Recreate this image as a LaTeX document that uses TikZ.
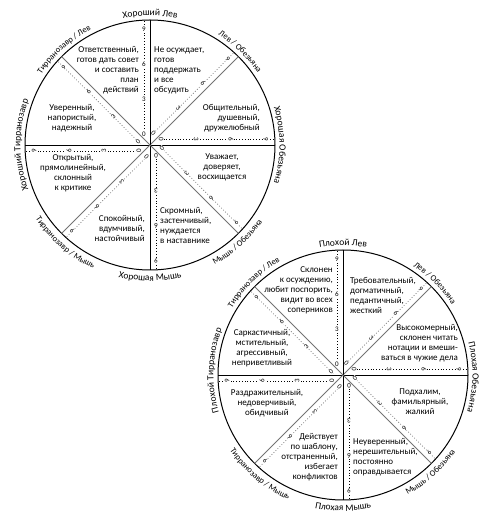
\documentclass[tikz,border=0pt]{standalone}
\usepackage{fontspec}
\setmainfont{Carlito}
\usetikzlibrary{decorations.text}

\newcommand{\sectfont}{\fontsize{9}{10}\selectfont}
\newcommand{\rimfont}{\fontsize{9.5}{10}\selectfont}
\newcommand{\mixfont}{\fontsize{8.5}{10}\selectfont}

\tikzset{
  rim/.style={line width=1pt},
  axis/.style={line width=0.8pt, black},
  diag/.style={line width=0.8pt, black!55},
  scaledots/.style={dotted, line width=0.7pt},
  digit/.style={font=\fontsize{7}{7}\selectfont, inner sep=0.5pt, fill=white,
    transform shape, rotate=-90},
  sector/.style={font=\sectfont, inner sep=0pt},
  rimtext/.style={decorate, decoration={text along path, text align=center, text={#1}}}
}

\begin{document}
\begin{tikzpicture}[x=1pt, y=1pt]
  \useasboundingbox (0,0) rectangle (498,517);

  % Хороший круг
  \begin{scope}[shift={(150,372)}]
    \coordinate (good) at (0,0);
    \draw[rim] (good) circle[radius=125];
    \foreach \a/\s in {0/axis,45/diag,90/axis,135/diag,180/axis,225/diag,270/axis,315/diag} {
      \begin{scope}[rotate=\a]
        \draw[\s] (0,0) -- (125,0);
        \draw[\s, scaledots] (8,6) -- (124.8,6);
        \foreach \k/\d in {0/11,3/46,6/81,9/116}
          \node[digit] (good-\a-\k) at (\d,6) {\k};
      \end{scope}
    }
    % подписи по кругу
    \path[rimtext={|\rimfont|Хороший Лев}] (135:129.5) arc[start angle=135, end angle=45, radius=129.5];
    \path[rimtext={|\mixfont|Лев / Обезьяна}] (91:129.5) arc[start angle=91, end angle=1, radius=129.5];
    \path[rimtext={|\rimfont|Хорошая Обезьяна}] (45:129.5) arc[start angle=45, end angle=-45, radius=129.5];
    \path[rimtext={|\mixfont|Мышь / Обезьяна}] (-93:136) arc[start angle=-93, end angle=-3, radius=136];
    \path[rimtext={|\rimfont|Хорошая Мышь}] (225:136) arc[start angle=225, end angle=315, radius=136];
    \path[rimtext={|\mixfont|Тирранозавр / Мышь}] (184:136) arc[start angle=184, end angle=274, radius=136];
    \path[rimtext={|\rimfont|Хороший Тирранозавр}] (225:129.5) arc[start angle=225, end angle=135, radius=129.5];
    \path[rimtext={|\mixfont|Тирранозавр / Лев}] (177:129.5) arc[start angle=177, end angle=87, radius=129.5];
  \end{scope}

  \node[sector, anchor=east, align=right] (good-lion) at (139,447)
    {Ответственный,\\готов дать совет\\и составить\\план\\действий};
  \node[sector, anchor=west, align=left] (good-lionape) at (154,447)
    {Не осуждает,\\готов\\поддержать\\и все\\обсудить};
  \node[sector, anchor=east, align=right] (good-apelion) at (260,399)
    {Общительный,\\душевный,\\дружелюбный};
  \node[sector, align=center] (good-apemouse) at (222,350)
    {Уважает,\\доверяет,\\восхищается};
  \node[sector, anchor=west, align=left] (good-mouseape) at (160,292)
    {Скромный,\\застенчивый,\\нуждается\\в наставнике};
  \node[sector, anchor=east, align=right] (good-mouserex) at (145,289)
    {Спокойный,\\вдумчивый,\\настойчивый};
  \node[sector, align=center] (good-rexmouse) at (73,344)
    {Открытый,\\прямолинейный,\\склонный\\к критике};
  \node[sector, align=center] (good-rexlion) at (72,399)
    {Уверенный,\\напористый,\\надежный};

  % Плохой круг
  \begin{scope}[shift={(343,142)}]
    \coordinate (bad) at (0,0);
    \draw[rim] (bad) circle[radius=125];
    \foreach \a/\s in {0/axis,45/diag,90/axis,135/diag,180/axis,225/diag,270/axis,315/diag} {
      \begin{scope}[rotate=\a]
        \draw[\s] (0,0) -- (125,0);
        \draw[\s, scaledots] (8,6) -- (124.8,6);
        \foreach \k/\d in {0/11,3/46,6/81,9/116}
          \node[digit] (bad-\a-\k) at (\d,6) {\k};
      \end{scope}
    }
    % подписи по кругу
    \path[rimtext={|\rimfont|Плохой Лев}] (135:129.5) arc[start angle=135, end angle=45, radius=129.5];
    \path[rimtext={|\mixfont|Лев / Обезьяна}] (90:129.5) arc[start angle=90, end angle=0, radius=129.5];
    \path[rimtext={|\rimfont|Плохая Обезьяна}] (44:129.5) arc[start angle=44, end angle=-46, radius=129.5];
    \path[rimtext={|\mixfont|Мышь / Обезьяна}] (-93:136) arc[start angle=-93, end angle=-3, radius=136];
    \path[rimtext={|\rimfont|Плохая Мышь}] (225:136) arc[start angle=225, end angle=315, radius=136];
    \path[rimtext={|\mixfont|Тирранозавр / Мышь}] (185:136) arc[start angle=185, end angle=275, radius=136];
    \path[rimtext={|\rimfont|Плохой Тирранозавр}] (223:129.5) arc[start angle=223, end angle=133, radius=129.5];
    \path[rimtext={|\mixfont|Тирранозавр / Лев}] (179:129.5) arc[start angle=179, end angle=89, radius=129.5];
  \end{scope}

  \node[sector, anchor=east, align=right] (bad-lion) at (333,227)
    {Склонен\\к осуждению,\\любит поспорить,\\видит во всех\\соперников};
  \node[sector, anchor=west, align=left] (bad-lionape) at (350,222)
    {Требовательный,\\догматичный,\\педантичный,\\жесткий};
  \node[sector, anchor=east, align=right] (bad-apelion) at (458,174)
    {Высокомерный,\\склонен читать\\нотации и вмеши-\\ваться в чужие дела};
  \node[sector, align=center] (bad-apemouse) at (420,115)
    {Подхалим,\\фамильярный,\\жалкий};
  \node[sector, anchor=west, align=left] (bad-mouseape) at (353,60)
    {Неуверенный,\\нерешительный,\\постоянно\\оправдывается};
  \node[sector, anchor=east, align=right] (bad-mouserex) at (338,60)
    {Действует\\по шаблону,\\отстраненный,\\избегает\\конфликтов};
  \node[sector, align=center] (bad-rexmouse) at (267,114)
    {Раздражительный,\\недоверчивый,\\обидчивый};
  \node[sector, align=center] (bad-rexlion) at (262,169)
    {Саркастичный,\\мстительный,\\агрессивный,\\неприветливый};
\end{tikzpicture}
\end{document}
